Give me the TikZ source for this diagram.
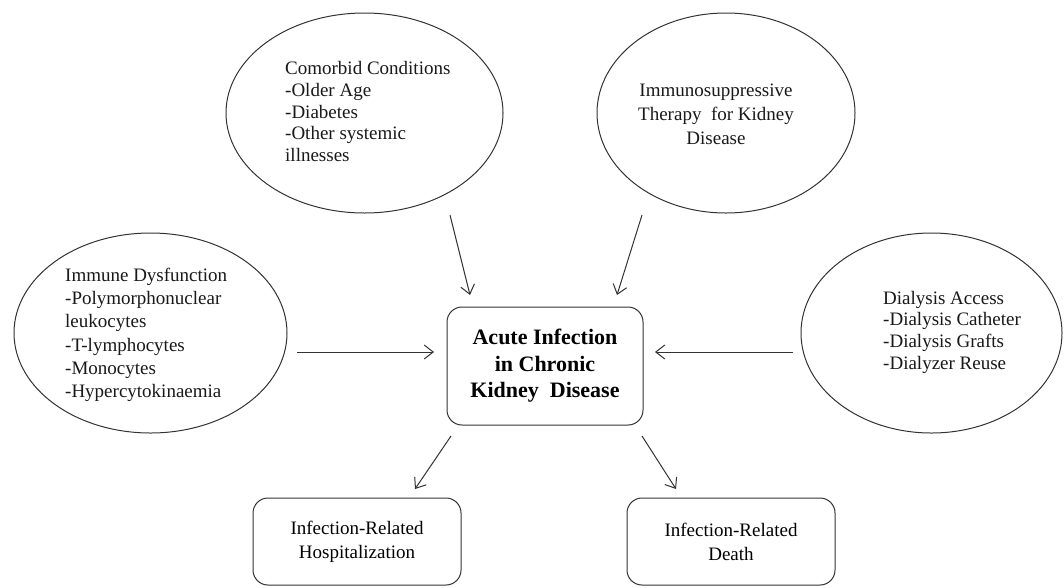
\documentclass[tikz,border=0pt]{standalone}
\usepackage{fontspec}
\setmainfont{Liberation Serif}
\usetikzlibrary{shapes.geometric,arrows.meta}
\begin{document}
\begin{tikzpicture}[x=1pt,y=-1pt,
  ell/.style={draw=black!80, line width=1pt, ellipse, inner sep=0pt},
  txt/.style={font=\fontsize{19}{22.5}\selectfont, align=left, inner sep=0pt, text=black!90},
  rbox/.style={draw=black!80, line width=1pt, rounded corners=15pt, inner sep=0pt},
  arr/.style={draw=black!80, line width=1pt, -{Straight Barb[length=9pt,width=14pt]}}]
\useasboundingbox (0,0) rectangle (1064,587);
\fill[white] (0,0) rectangle (1064,587);

% ellipses
\node[ell, minimum width=277, minimum height=200] (comorbid) at (364.5,113) {};
\node[ell, minimum width=258, minimum height=200] (immuno) at (726,113) {};
\node[ell, minimum width=273, minimum height=200] (dysf) at (150.5,333) {};
\node[ell, minimum width=261, minimum height=200] (dialysis) at (931.5,333) {};

% texts in ellipses
\node[txt, anchor=west, font=\fontsize{19}{21.7}\selectfont] (comorbidtxt) at (285,111.5)
  {Comorbid Conditions\\-Older Age\\-Diabetes\\-Other systemic\\illnesses};
\node[txt, align=center, font=\fontsize{19}{24}\selectfont] (immunotxt) at (716,114)
  {Immunosuppressive\\Therapy\ \ for Kidney\\Disease};
\node[txt, anchor=west, font=\fontsize{19}{23.3}\selectfont] (dysftxt) at (65,335)
  {Immune Dysfunction\\-Polymorphonuclear\\leukocytes\\-T-lymphocytes\\-Monocytes\\-Hypercytokinaemia};
\node[txt, anchor=west, font=\fontsize{19}{21.7}\selectfont] (dialysistxt) at (883,332)
  {Dialysis Access\\-Dialysis Catheter\\-Dialysis Grafts\\-Dialyzer Reuse};

% central box
\node[rbox, minimum width=196, minimum height=118, align=center,
      font=\fontsize{22}{26.5}\selectfont\bfseries] (aki) at (545,366)
  {Acute Infection\\in Chronic\\Kidney\ \ Disease};

% outcome boxes
\node[rbox, minimum width=208, minimum height=87, align=center,
      font=\fontsize{19}{24}\selectfont] (hosp) at (357,541.5)
  {Infection-Related\\Hospitalization};
\node[rbox, minimum width=208, minimum height=87, align=center,
      font=\fontsize{19}{24}\selectfont] (death) at (731,541.5)
  {Infection-Related\\Death};

% arrow end points
\coordinate (c1s) at (450,215);
\coordinate (c1e) at (470,295);
\coordinate (c2s) at (642,215);
\coordinate (c2e) at (617,295);
\coordinate (c3s) at (297,352);
\coordinate (c3e) at (434,352);
\coordinate (c4s) at (793,352);
\coordinate (c4e) at (655,352);
\coordinate (c5s) at (451,436);
\coordinate (c5e) at (415,489);
\coordinate (c6s) at (642,436);
\coordinate (c6e) at (676,489);

\draw[arr] (c1s) -- (c1e);
\draw[arr] (c2s) -- (c2e);
\draw[arr] (c3s) -- (c3e);
\draw[arr] (c4s) -- (c4e);
\draw[arr] (c5s) -- (c5e);
\draw[arr] (c6s) -- (c6e);
\end{tikzpicture}
\end{document}
